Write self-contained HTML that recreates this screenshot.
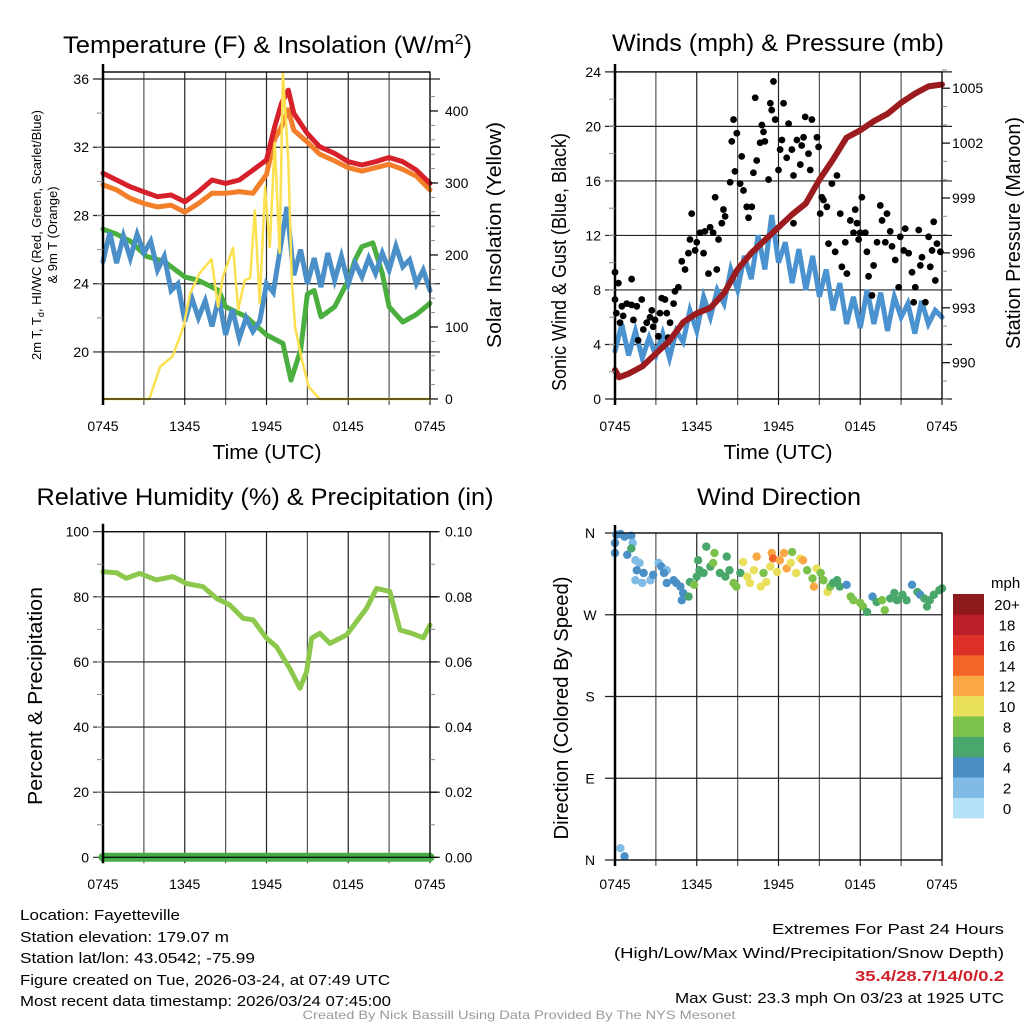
<!DOCTYPE html>
<html><head><meta charset="utf-8"><style>
html,body{margin:0;padding:0;background:#fff}
svg{display:block}
text{font-family:"Liberation Sans",sans-serif;fill:#000}
</style></head><body>
<svg id="fig" width="1024" height="1024" viewBox="0 0 1024 1024" xmlns="http://www.w3.org/2000/svg">
<g id="grid"></g>
<g id="marks"></g>
<g id="axes"></g>
<g id="labels">
<text x="63" y="53" font-size="24" textLength="409" lengthAdjust="spacingAndGlyphs">Temperature (F) &amp; Insolation (W/m<tspan font-size="15" dy="-9">2</tspan><tspan dy="9">)</tspan></text>
<text x="778" y="51" font-size="24" text-anchor="middle" textLength="332" lengthAdjust="spacingAndGlyphs">Winds (mph) &amp; Pressure (mb)</text>
<text x="265" y="505" font-size="24" text-anchor="middle" textLength="457" lengthAdjust="spacingAndGlyphs">Relative Humidity (%) &amp; Precipitation (in)</text>
<text x="779" y="505" font-size="24" text-anchor="middle" textLength="164" lengthAdjust="spacingAndGlyphs">Wind Direction</text>
<text x="267" y="459" font-size="20" text-anchor="middle" textLength="109" lengthAdjust="spacingAndGlyphs">Time (UTC)</text>
<text x="778" y="459" font-size="20" text-anchor="middle" textLength="109" lengthAdjust="spacingAndGlyphs">Time (UTC)</text>
<g transform="translate(41,235) rotate(-90)">
<text x="0" y="0" font-size="13" text-anchor="middle" textLength="250" lengthAdjust="spacingAndGlyphs">2m T, T<tspan font-size="9" dy="3">d</tspan><tspan dy="-3">, HI/WC (Red, Green, Scarlet/Blue)</tspan></text>
<text x="0" y="16" font-size="13" text-anchor="middle">&amp; 9m T (Orange)</text></g>
<text transform="translate(501,235) rotate(-90)" font-size="20" text-anchor="middle" textLength="226" lengthAdjust="spacingAndGlyphs">Solar Insolation (Yellow)</text>
<text transform="translate(566,262) rotate(-90)" font-size="20" text-anchor="middle" textLength="258" lengthAdjust="spacingAndGlyphs">Sonic Wind &amp; Gust (Blue, Black)</text>
<text transform="translate(1020,233) rotate(-90)" font-size="20" text-anchor="middle" textLength="232" lengthAdjust="spacingAndGlyphs">Station Pressure (Maroon)</text>
<text transform="translate(42,696) rotate(-90)" font-size="20" text-anchor="middle" textLength="218" lengthAdjust="spacingAndGlyphs">Percent &amp; Precipitation</text>
<text transform="translate(568,708) rotate(-90)" font-size="20" text-anchor="middle" textLength="263" lengthAdjust="spacingAndGlyphs">Direction (Colored By Speed)</text>
<text x="991" y="588" font-size="15">mph</text>
<g font-size="15">
<text x="20" y="920" textLength="160" lengthAdjust="spacingAndGlyphs">Location: Fayetteville</text>
<text x="20" y="942" textLength="209" lengthAdjust="spacingAndGlyphs">Station elevation: 179.07 m</text>
<text x="20" y="963" textLength="235" lengthAdjust="spacingAndGlyphs">Station lat/lon: 43.0542; -75.99</text>
<text x="20" y="985" textLength="370" lengthAdjust="spacingAndGlyphs">Figure created on Tue, 2026-03-24, at 07:49 UTC</text>
<text x="20" y="1006" textLength="371" lengthAdjust="spacingAndGlyphs">Most recent data timestamp: 2026/03/24 07:45:00</text>
</g>
<g font-size="15" text-anchor="end">
<text x="1004" y="934" textLength="232" lengthAdjust="spacingAndGlyphs">Extremes For Past 24 Hours</text>
<text x="1004" y="958" textLength="390" lengthAdjust="spacingAndGlyphs">(High/Low/Max Wind/Precipitation/Snow Depth)</text>
<text x="1004" y="981" font-weight="bold" style="fill:#d0202a" textLength="149" lengthAdjust="spacingAndGlyphs">35.4/28.7/14/0/0.2</text>
<text x="1004" y="1003" textLength="329" lengthAdjust="spacingAndGlyphs">Max Gust: 23.3 mph On 03/23 at 1925 UTC</text>
</g>
<text x="519" y="1019" font-size="12" text-anchor="middle" style="fill:#9a9a9a" textLength="433" lengthAdjust="spacingAndGlyphs">Created By Nick Bassill Using Data Provided By The NYS Mesonet</text>
</g>
</svg>
<script>
// ---------- data ----------
const xTickLabels = ["0745","1345","1945","0145","0745"];
const tempTicks = [20,24,28,32,36];
const insolTicks = [0,100,200,300,400];
const windTicks = [0,4,8,12,16,20,24];
const presTicks = [990,993,996,999,1002,1005];
const rhTicks = [0,20,40,60,80,100];
const precipTicks = ["0.00","0.02","0.04","0.06","0.08","0.10"];
const dirTickLabels = ["N","E","S","W","N"];
const speedBins = ["0","2","4","6","8","10","12","14","16","18","20+"];
const speedColors = ["#b5e1f7","#7fbbe4","#4a8fc6","#4aa76c","#7cc24a","#e8e05a","#f9a845","#f26529","#dd3128","#bb1e26","#8f1a1d"];

const tempHours = [0,1,2,3,4,5,6,7,8,9,10,11,12,12.6,13.1,13.6,14,15,15.9,17,18,19,20,21,22,23,24];
const redTemp = [30.47,30.08,29.68,29.39,29.1,29.2,28.8,29.39,30.08,29.88,30.08,30.66,31.25,33.2,34.57,35.35,33.99,32.8,32.03,31.64,31.15,30.96,31.15,31.4,31.15,30.66,29.88];
const orangeTemp = [29.8,29.5,29.0,28.7,28.5,28.6,28.2,28.7,29.3,29.3,29.4,29.3,30.4,32.5,33.2,34.2,33.0,32.3,31.6,31.2,30.8,30.6,30.8,31.0,30.7,30.3,29.5];

const greenHours = [0,1,2,3.2,4.5,6,7,8.5,9,10.5,12,13.2,13.8,14.5,15,15.5,16,17,18,18.5,19,19.8,20.5,21,22,23,24];
const greenTemp = [27.2,26.9,26.5,25.6,25.3,24.4,24.2,23.6,22.65,22.06,21.0,20.5,18.35,20.1,23.4,23.6,22.06,22.65,24.2,25.4,26.17,26.4,24.6,22.65,21.75,22.2,22.85];

const halfHours = [0,0.5,1,1.5,2,2.5,3,3.5,4,4.5,5,5.5,6,6.5,7,7.5,8,8.5,9,9.5,10,10.5,11,11.5,12,12.5,13,13.5,14,14.5,15,15.5,16,16.5,17,17.5,18,18.5,19,19.5,20,20.5,21,21.5,22,22.5,23,23.5,24];
const dewTemp = [25.3,27.0,25.2,26.8,25.5,26.9,25.8,26.5,24.8,25.6,23.6,24.0,21.8,23.2,22.0,23.0,21.5,23.2,21.0,22.5,20.8,22.0,21.2,21.8,24.0,23.5,26.0,28.5,24.5,26.0,24.0,25.5,23.8,25.8,24.2,25.6,24.0,25.2,24.4,25.5,24.6,25.8,24.8,26.2,25.0,25.4,24.0,24.8,23.6];

const insolHours = [0,3.4,4.2,5.1,5.9,6.4,7.1,7.96,8.45,8.8,9.55,9.92,10.4,10.8,11.14,11.5,11.9,12.24,12.6,12.96,13.2,13.6,13.86,14.1,14.6,15.1,15.9,24];
const insolation = [0,0,45,59,100,147,175,194,128,170,210,124,165,168,262,133,295,211,356,203,453,332,165,100,54,17,0,0];

const windSpeed = [3.5,5.5,3.2,5.0,3.0,4.5,3.2,4.8,3.0,5.0,4.2,6.5,5.0,7.5,6.0,8.0,7.0,9.5,8.0,10.5,8.8,12.0,9.5,13.5,10.0,11.5,8.5,11.0,8.0,10.5,7.5,9.5,6.5,8.5,5.5,7.5,5.2,8.0,5.5,7.8,5.0,7.5,6.0,7.0,4.8,7.2,5.5,6.5,6.0];

const presHours = [0,0.3,1,2,3,4,5,6,7,8,9,10,11,12,13,14,15,16,17,18,19,20,21,22,23,24];
const pressure = [989.6,989.2,989.4,989.8,990.5,991.2,992.2,992.7,993.0,993.8,995.1,996.0,996.7,997.4,998.1,998.7,1000.0,1001.1,1002.3,1002.7,1003.2,1003.6,1004.2,1004.7,1005.1,1005.2];

const gustHours = [0,0,0.25,0.1,0.37,0.5,0.6,0.86,1.22,1.22,1.35,1.6,1.7,1.96,2.08,2.33,2.57,2.7,2.8,2.94,3.18,3.3,3.43,3.67,3.8,3.9,4.04,4.3,4.4,4.65,4.9,5.14,5.39,5.5,5.63,5.88,6.0,6.25,6.5,6.6,6.86,6.98,7.2,7.35,7.47,7.6,7.84,7.96,8.08,8.45,8.57,8.7,8.8,8.94,9.18,9.3,9.43,9.67,9.8,10.04,10.16,10.29,10.4,10.65,10.78,10.9,11.0,11.27,11.4,11.5,11.63,11.76,12.0,12.12,12.25,12.37,12.6,12.74,12.98,13.1,13.1,13.35,13.6,13.7,13.84,13.96,14.2,14.33,14.45,14.82,14.94,15.06,15.18,15.3,15.55,15.67,15.92,16.16,16.29,16.53,16.65,16.9,17.02,17.27,17.51,17.63,17.76,17.88,18.0,18.12,18.37,18.49,18.61,18.86,18.98,19.23,19.47,19.6,19.84,19.96,20.2,20.33,20.57,20.82,20.94,21.19,21.3,21.55,21.8,21.92,22.04,22.29,22.41,22.53,22.78,23.02,23.14,23.27,23.39,23.51,23.63,23.88];
const gustSpeed = [9.3,7.3,8.5,6.3,5.6,6.8,6.1,7.0,8.8,6.9,5.8,6.8,4.3,7.3,5.1,5.6,6.0,6.5,5.3,5.8,4.6,6.3,7.4,7.3,6.3,4.5,5.6,7.0,7.9,8.2,10.1,9.5,10.7,11.7,13.6,10.9,11.5,12.2,10.7,12.3,9.2,12.6,12.2,14.8,9.5,11.7,12.9,13.9,13.4,15.9,18.9,20.5,16.7,19.5,15.8,17.8,15.3,14.1,13.3,14.1,16.6,22.1,17.5,18.8,20.1,19.6,18.9,16.1,21.7,21.2,23.3,20.5,16.8,18.3,19.0,21.7,17.7,20.2,18.3,16.4,12.9,19.0,17.2,18.6,19.2,20.7,18.0,16.8,20.5,19.2,18.5,13.6,14.8,14.6,14.1,11.4,15.8,10.8,16.4,13.6,9.7,11.5,9.2,13.1,12.2,13.9,12.9,11.7,12.2,14.8,12.2,10.8,9.0,7.6,9.8,11.5,14.2,13.1,11.5,13.6,12.3,11.2,10.2,8.2,11.9,10.9,12.5,10.7,9.3,7.1,8.2,12.4,9.8,10.4,7.1,11.9,9.7,10.9,13.0,8.7,11.4,10.8];

const rhHours = [0,0.98,1.71,2.69,3.92,5.14,6.12,7.35,8.33,9.31,10.29,11.02,12.0,12.73,13.71,14.45,14.94,15.31,15.92,16.65,17.88,19.35,20.08,21.06,21.8,22.65,23.51,24.0];
const rhValues = [87.7,87.4,85.7,87.2,85.2,86.2,84.1,83.1,79.5,77.5,73.4,72.9,67.3,64.7,58.0,51.9,57.0,67.3,68.8,65.7,68.3,76.5,82.6,81.6,69.8,68.8,67.4,71.3];
const precipHours = [0,24];
const precipValues = [0,0];

const dirHours = [0,0.1,0.4,0.7,1.2,1.3,0,0.9,1.2,1.5,1.8,1.6,2.1,1.5,2.0,2.6,2.8,3.2,3.4,3.8,3.6,3.8,4.3,4.5,4.8,5.0,4.9,5.4,5.5,5.8,6.0,6.1,6.2,6.5,6.7,7.0,7.2,7.3,7.7,8.1,8.2,8.4,8.7,8.9,9.2,9.4,9.7,9.9,10.2,10.4,10.7,10.9,11.1,11.4,11.5,11.6,11.9,12.1,12.4,12.6,12.9,13.0,13.3,13.6,13.8,14.1,14.6,14.5,14.8,15.1,15.3,15.6,15.8,16.0,16.3,16.5,17.0,17.3,17.5,18.0,18.2,18.5,18.9,19.2,19.6,19.8,20.2,20.5,20.7,21.1,21.4,21.8,22.2,22.4,22.7,22.9,23.1,23.4,23.8,24.0,0.4,0.7];
const dirDegrees = [349,358,359,356,357,349,338,336,343,330,327,319,316,308,305,308,314,327,323,319,316,305,308,305,301,294,286,290,306,303,312,330,319,316,345,323,327,338,316,312,334,319,305,301,316,328,312,305,319,334,301,316,306,323,338,332,317,330,338,321,327,339,316,332,330,319,301,310,321,316,308,295,301,305,308,301,303,290,286,283,279,273,290,284,286,275,288,294,286,292,286,303,295,292,288,279,286,292,297,299,13,4];
const dirSpeed = [4,4,4,4,4,2,4,4,6,2,2,4,4,2,2,2,4,2,4,2,4,4,4,4,4,4,4,6,6,8,6,6,6,6,6,6,8,8,6,6,6,6,8,8,6,10,10,10,10,12,10,8,10,10,12,14,10,12,12,12,10,8,10,10,12,8,12,8,10,8,8,10,8,6,6,6,4,8,8,8,8,6,4,6,8,8,6,6,6,6,6,4,6,4,6,6,6,6,6,6,2,4];

// ---------- helpers ----------
const NS = "http://www.w3.org/2000/svg";
const gGrid = document.getElementById('grid');
const gMarks = document.getElementById('marks');
const gAxes = document.getElementById('axes');
function mk(tag, attrs, parent){const e=document.createElementNS(NS,tag);for(const k in attrs)e.setAttribute(k,attrs[k]);parent.appendChild(e);return e;}
function line(x1,y1,x2,y2,stroke,w,parent){return mk('line',{x1,y1,x2,y2,stroke,'stroke-width':w},parent);}
function txt(x,y,s,size,anchor,parent){const t=mk('text',{x,y,'font-size':size,'text-anchor':anchor},parent);t.textContent=s;return t;}
function pathFrom(xs,ys,sx,sy){let d='';for(let i=0;i<xs.length;i++){d+=(i?'L':'M')+sx(xs[i]).toFixed(1)+' '+sy(ys[i]).toFixed(1);}return d;}

const L1=103,R1=430,L2=615,R2=942;
const xs1 = h => L1 + h*(R1-L1)/24;
const xs2 = h => L2 + h*(R2-L2)/24;

const yTemp = t => 79 + (36-t)*17.06;
const yIns = v => 399 - v*0.72;
const yWind = m => 399 - m*13.63;
const yPres = p => 362.7 - (p-990)*18.3;
const yRH = r => 857.3 - r*3.256;
const yDir = d => 860 - d*0.9083;

function frame(L,R,T,B,name){
  for(let i=0;i<=8;i++){const x=L+i*(R-L)/8;const g=line(x,T,x,B+6,i%2?'#555':'#222',1.2,gGrid);
  
  }
  const f=mk('rect',{x:L,y:T,width:R-L,height:B-T,fill:'none',stroke:'#000','stroke-width':1.2},gAxes);
  
  
  line(L,T-8,L,B+6,'#000',2.5,gAxes);
}
function xLabels(L,R,y,name){
  for(let i=0;i<xTickLabels.length;i++){const t=txt(L+i*(R-L)/4,y,xTickLabels[i],14,'middle',gAxes);
  
  }
}
function leftAxis(L,R,ticks,sy,minorStep,fmt,name,gridOn){
  for(const v of ticks){const y=sy(v);
    if(gridOn) line(L-10,y,R+10,y,'#222',1.2,gGrid); else line(L-10,y,L,y,'#000',1.2,gAxes);
    const t=txt(L-14,y+5,fmt?fmt(v):String(v),14,'end',gAxes);
    
    }
  if(minorStep){const a=ticks[0],b=ticks[ticks.length-1];for(let v=a+minorStep;v<b;v+=minorStep){line(L-6,sy(v),L,sy(v),'#888',1,gAxes);}}
}
function series(xs,ys,sx,sy,color,w,name,extra){const p=mk('path',Object.assign({d:pathFrom(xs,ys,sx,sy),fill:'none',stroke:color,'stroke-width':w,'stroke-linejoin':'round','stroke-linecap':'round'},extra||{}),gMarks);

return p;}

// ---------- Panel 1: temperature ----------
frame(L1,R1,72,399,'temp');
leftAxis(L1,R1,tempTicks,yTemp,2,null,'temp-y',true);
line(L1,72,R1,72,'#000',1.2,gAxes);
for(const v of insolTicks){const y=yIns(v);line(R1,y,R1+8,y,'#000',1.2,gAxes);const t=txt(R1+15,y+5,String(v),14,'start',gAxes);

}
for(let v=20;v<440;v+=20){if(v%100)line(R1,yIns(v),R1+5,yIns(v),'#888',1,gAxes);}
xLabels(L1,R1,431,'temp');
series(tempHours,orangeTemp,xs1,yTemp,'#f47f2a',5,'orange-9m-temp-line');
series(tempHours,redTemp,xs1,yTemp,'#d6202a',5,'red-2m-temp-line');
series(greenHours,greenTemp,xs1,yTemp,'#4aaf3f',5,'green-hiwc-line');
series(halfHours,dewTemp,xs1,yTemp,'#4a8fc8',5,'blue-dewpoint-line',{'stroke-linejoin':'miter'});
series(insolHours,insolation,xs1,yIns,'#fbe04f',2.5,'yellow-insolation-line');

// ---------- Panel 2: winds ----------
frame(L2,R2,72,399,'winds');
leftAxis(L2,R2,windTicks,yWind,2,null,'wind-y',true);
for(const v of presTicks){const y=yPres(v);line(R2,y,R2+8,y,'#000',1.2,gAxes);const t=txt(R2+10,y+5,String(v),14,'start',gAxes);

}
for(let v=988;v<=1006;v++){if((v-990)%3)line(R2,yPres(v),R2+5,yPres(v),'#888',1,gAxes);}
xLabels(L2,R2,431,'winds');
series(halfHours,windSpeed,xs2,yWind,'#4b93d0',5,'blue-sonic-wind-line',{'stroke-linejoin':'miter'});
for(let i=0;i<gustHours.length;i++){const c=mk('circle',{cx:xs2(gustHours[i]),cy:yWind(gustSpeed[i]),r:3.4,fill:'#000'},gMarks);

}
series(presHours,pressure,xs2,yPres,'#9b1b1e',6,'maroon-pressure-line');

// ---------- Panel 3: RH ----------
frame(L1,R1,531.7,857.3,'rh');
leftAxis(L1,R1,rhTicks,yRH,10,null,'rh-y',true);
for(let i=0;i<precipTicks.length;i++){const y=yRH(rhTicks[i]);line(R1,y,R1+8,y,'#000',1.2,gAxes);const t=txt(R1+15,y+5,precipTicks[i],14,'start',gAxes);

}
for(let v=10;v<100;v+=20)line(R1,yRH(v),R1+5,yRH(v),'#888',1,gAxes);
xLabels(L1,R1,889,'rh');
series(rhHours,rhValues,xs1,yRH,'#8cc84b',5,'rh-line');
const yPrecip = p => yRH(p*1000);
series(precipHours,precipValues,xs1,yPrecip,'#46ad46',9,'precip-line');

// ---------- Panel 4: wind direction ----------
frame(L2,R2,533,860,'dir');
for(let i=0;i<dirTickLabels.length;i++){const y=yDir(i*90);line(L2-10,y,R2,y,'#222',1.2,gGrid);const t=txt(L2-25,y+5,dirTickLabels[i],14,'middle',gAxes);

}
xLabels(L2,R2,889,'dir');
for(let i=0;i<dirHours.length;i++){const bin=Math.min(10,Math.round(dirSpeed[i]/2));const c=mk('circle',{cx:xs2(dirHours[i]),cy:yDir(dirDegrees[i]),r:4.2,fill:speedColors[bin]},gMarks);

}

// colorbar
const cbTop=594,cbBot=818,cbH=(cbBot-cbTop)/speedBins.length;
for(let i=0;i<speedBins.length;i++){const y=cbBot-(i+1)*cbH;
const r=mk('rect',{x:953,y:y,width:31,height:cbH+0.3,fill:speedColors[i]},gAxes);


const t=txt(1007,y+cbH/2+6,speedBins[i],15,'middle',gAxes);

}
</script>
</body></html>
